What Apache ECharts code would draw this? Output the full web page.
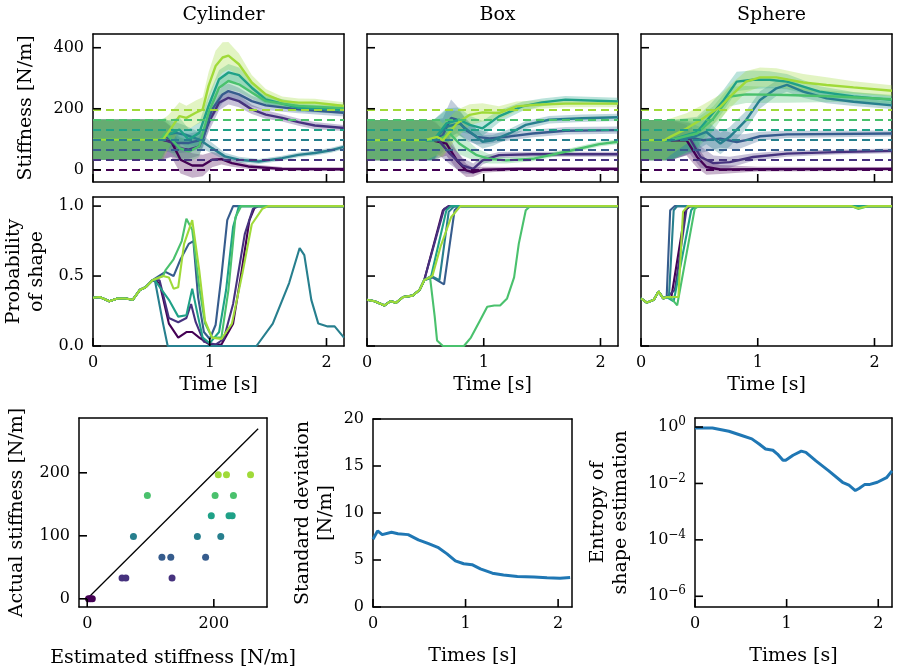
<!DOCTYPE html>
<html>
<head>
<meta charset="utf-8">
<script src="https://cdn.jsdelivr.net/npm/echarts@6/dist/echarts.min.js"></script>
<style>
  html, body { margin: 0; padding: 0; background: #fff; }
  #chart { width: 898px; height: 671px; }
</style>
</head>
<body>
<div id="chart"></div>
<script>
// ---- data ----
var shapes = ['Cylinder', 'Box', 'Sphere'];
var trueK = [0, 33, 66, 99, 132, 164, 197];
var colors = ['#440154', '#46327e', '#365c8d', '#277f8e', '#1fa187', '#4ac16d', '#a0da39'];
var timeTicks = [0, 1, 2];
var stiffTicks = [0, 200, 400];
var probTicks = [0, 0.5, 1];

// stiffness estimate per true stiffness: [time, mean, spread]
var stiffCylinder = [
  [[0,99,66],[0.58,99,66],[0.67,93,50],[0.75,33,45],[0.85,14,40],[0.94,14,35],[1.02,33,25],[1.1,35,18],[1.19,22,12],[1.33,11,8],[1.62,3,6],[2.15,2,6]],
  [[0,99,66],[0.6,99,66],[0.68,88,45],[0.74,71,35],[0.82,66,30],[0.91,77,30],[0.99,154,30],[1.08,220,25],[1.16,236,22],[1.25,225,20],[1.36,198,15],[1.48,181,14],[1.62,170,12],[1.76,156,12],[1.9,145,12],[2.15,137,10]],
  [[0,99,66],[0.6,99,66],[0.62,110,50],[0.71,88,35],[0.82,88,30],[0.94,99,30],[1.02,198,30],[1.11,247,28],[1.16,258,25],[1.25,247,22],[1.36,225,18],[1.48,211,15],[1.76,198,13],[2.15,187,12]],
  [[0,99,66],[0.58,99,66],[0.62,115,50],[0.71,121,35],[0.79,115,30],[0.91,99,25],[1.02,71,18],[1.13,44,12],[1.25,33,10],[1.42,27,8],[1.62,38,8],[1.76,49,8],[1.9,55,8],[2.04,64,8],[2.15,75,8]],
  [[0,99,66],[0.58,99,66],[0.62,110,50],[0.74,132,40],[0.82,99,35],[0.91,121,35],[0.99,209,35],[1.08,297,30],[1.16,319,28],[1.25,310,25],[1.36,269,20],[1.48,231,16],[1.76,203,13],[2.15,196,12]],
  [[0,99,66],[0.58,99,66],[0.62,121,50],[0.74,71,40],[0.82,60,35],[0.91,77,35],[0.99,187,35],[1.08,269,30],[1.16,291,28],[1.25,280,25],[1.36,253,20],[1.48,225,16],[1.76,209,13],[2.15,202,12]],
  [[0,99,66],[0.6,99,66],[0.65,126,55],[0.74,176,45],[0.8,170,40],[0.88,187,40],[0.94,198,40],[0.99,275,45],[1.05,340,50],[1.11,368,50],[1.16,374,45],[1.25,346,35],[1.36,286,25],[1.48,247,18],[1.62,225,15],[1.76,220,14],[1.9,220,13],[2.04,214,12],[2.15,209,12]]
];
var stiffBox = [
  [[0,97,66],[0.55,97,66],[0.68,86,40],[0.77,31,30],[0.85,-2,22],[0.91,-8,15],[0.99,0,10],[1.28,3,6],[2.15,3,6]],
  [[0,97,66],[0.57,97,66],[0.6,103,50],[0.71,53,35],[0.82,14,25],[0.91,3,18],[0.99,31,14],[1.13,48,10],[1.42,51,8],[2.15,51,8]],
  [[0,97,66],[0.57,97,66],[0.65,114,55],[0.72,170,60],[0.77,164,45],[0.85,130,35],[0.94,108,25],[1.05,103,18],[1.19,108,14],[1.42,119,12],[1.7,128,12],[2.15,130,12]],
  [[0,97,66],[0.57,97,66],[0.68,141,55],[0.79,152,40],[0.88,125,30],[0.99,92,22],[1.08,97,18],[1.22,119,15],[1.36,147,13],[1.56,164,12],[1.84,169,12],[2.15,172,12]],
  [[0,97,66],[0.57,97,66],[0.68,152,50],[0.79,164,40],[0.88,147,30],[0.99,136,25],[1.13,175,20],[1.33,208,15],[1.5,221,13],[1.7,230,12],[2.15,224,12]],
  [[0,97,66],[0.6,97,66],[0.71,119,45],[0.79,86,35],[0.94,48,22],[1.05,36,15],[1.19,31,10],[1.42,36,8],[1.7,59,8],[1.99,84,8],[2.15,92,8]],
  [[0,97,66],[0.5,97,66],[0.6,108,60],[0.65,97,55],[0.77,152,45],[0.88,180,35],[0.99,188,30],[1.13,186,22],[1.28,208,16],[1.45,213,14],[1.7,217,12],[2.15,217,12]]
];
var stiffSphere = [
  [[0,97,66],[0.25,97,66],[0.39,97,50],[0.48,42,35],[0.56,9,25],[0.68,1,15],[1.0,2,8],[2.15,3,6]],
  [[0,97,66],[0.25,97,66],[0.42,102,50],[0.51,42,35],[0.62,22,25],[0.76,25,18],[0.96,42,12],[1.25,53,10],[1.67,58,8],[2.15,62,8]],
  [[0,97,66],[0.25,97,66],[0.39,108,50],[0.53,97,40],[0.68,102,30],[0.82,91,25],[0.9,97,20],[1.02,110,15],[1.25,116,12],[2.15,119,10]],
  [[0,97,66],[0.25,97,66],[0.45,108,50],[0.56,124,40],[0.68,86,35],[0.76,108,32],[0.9,163,30],[1.02,229,28],[1.16,267,25],[1.25,278,22],[1.39,256,20],[1.59,234,16],[1.82,223,14],[2.15,211,12]],
  [[0,97,66],[0.25,97,66],[0.48,124,50],[0.59,174,40],[0.71,229,35],[0.82,289,32],[0.96,295,30],[1.1,295,28],[1.25,289,25],[1.53,256,18],[1.82,240,15],[2.15,229,14]],
  [[0,97,66],[0.25,97,66],[0.48,119,50],[0.62,168,40],[0.76,240,32],[0.9,247,28],[1.25,245,25],[1.67,240,18],[2.15,231,15]],
  [[0,97,66],[0.2,97,66],[0.25,108,60],[0.39,135,50],[0.53,168,45],[0.68,207,40],[0.79,250,38],[0.9,289,35],[1.02,303,32],[1.16,303,30],[1.39,286,28],[1.59,278,25],[1.82,270,20],[2.15,259,18]]
];

// probability of the right shape: shared start, then per true stiffness [time, p]
var probCylinderStart = [[0,0.345],[0.057,0.35],[0.14,0.32],[0.21,0.34],[0.28,0.34],[0.34,0.33],[0.4,0.4],[0.45,0.42],[0.51,0.47]];
var probCylinder = [
  [[0.57,0.45],[0.65,0.16],[0.73,0.06],[0.8,0.1],[0.85,0.1],[0.91,0.06],[1.0,0.01],[1.1,0.01],[1.2,0.16],[1.27,0.52],[1.34,0.9],[1.39,1.0],[2.15,1.0]],
  [[0.57,0.47],[0.65,0.2],[0.73,0.17],[0.8,0.2],[0.84,0.3],[0.88,0.17],[0.95,0.03],[1.05,0.01],[1.12,0.05],[1.2,0.3],[1.3,0.8],[1.37,0.98],[1.42,1.0],[2.15,1.0]],
  [[0.62,0.53],[0.69,0.5],[0.75,0.62],[0.82,0.73],[0.86,0.75],[0.9,0.35],[0.95,0.1],[1.0,0.05],[1.05,0.15],[1.1,0.5],[1.15,0.9],[1.2,1.0],[2.15,1.0]],
  [[0.53,0.47],[0.6,0.16],[0.64,0.0],[1.4,0.0],[1.54,0.16],[1.68,0.45],[1.77,0.7],[1.81,0.65],[1.87,0.33],[1.93,0.16],[2.01,0.14],[2.07,0.14],[2.15,0.06]],
  [[0.53,0.47],[0.65,0.33],[0.73,0.21],[0.8,0.22],[0.85,0.41],[0.9,0.21],[0.94,0.06],[1.0,0.02],[1.08,0.1],[1.14,0.4],[1.2,0.85],[1.25,1.0],[2.15,1.0]],
  [[0.6,0.5],[0.62,0.54],[0.69,0.62],[0.76,0.75],[0.8,0.91],[0.85,0.83],[0.91,0.42],[0.96,0.16],[1.02,0.06],[1.1,0.06],[1.16,0.4],[1.22,0.92],[1.27,1.0],[2.15,1.0]],
  [[0.6,0.5],[0.65,0.49],[0.69,0.41],[0.73,0.42],[0.78,0.73],[0.85,0.9],[0.91,0.54],[0.96,0.18],[1.02,0.06],[1.1,0.05],[1.19,0.16],[1.28,0.52],[1.36,0.87],[1.45,0.98],[1.5,1.0],[2.15,1.0]]
];
var probBoxStart = [[0,0.33],[0.065,0.32],[0.15,0.29],[0.2,0.32],[0.25,0.31],[0.31,0.35],[0.39,0.36],[0.45,0.4],[0.49,0.47]];
var probBox = [
  [[0.65,0.97],[0.7,1.0],[2.15,1.0]],
  [[0.66,0.98],[0.7,1.0],[2.15,1.0]],
  [[0.56,0.49],[0.66,0.44],[0.75,0.97],[0.79,1.0],[2.15,1.0]],
  [[0.55,0.5],[0.62,0.47],[0.7,0.96],[0.75,1.0],[2.15,1.0]],
  [[0.55,0.5],[0.68,0.97],[0.72,1.0],[2.15,1.0]],
  [[0.54,0.49],[0.58,0.21],[0.6,0.04],[0.65,0],[0.83,0],[0.89,0.06],[0.96,0.17],[1.03,0.28],[1.09,0.29],[1.14,0.29],[1.2,0.34],[1.26,0.49],[1.3,0.73],[1.36,0.97],[1.4,1.0],[2.15,1.0]],
  [[0.51,0.48],[0.56,0.5],[0.63,0.71],[0.72,0.92],[0.8,1.0],[2.15,1.0]]
];
var probSphereStart = [[0,0.34],[0.05,0.31],[0.11,0.33],[0.15,0.39],[0.19,0.34],[0.22,0.35]];
var probSphere = [
  [[0.26,0.35],[0.38,0.97],[0.42,1.0],[2.15,1.0]],
  [[0.29,0.4],[0.39,0.98],[0.42,1.0],[2.15,1.0]],
  [[0.25,0.97],[0.29,1.0],[2.15,1.0]],
  [[0.24,0.36],[0.28,0.97],[0.31,1.0],[2.15,1.0]],
  [[0.28,0.32],[0.43,0.97],[0.46,1.0],[2.15,1.0]],
  [[0.26,0.34],[0.31,0.29],[0.46,0.98],[0.49,1.0],[1.8,1.0],[1.86,0.98],[1.95,1.0],[2.15,1.0]],
  [[0.32,0.35],[0.36,0.96],[0.4,1.0],[1.8,1.0],[1.86,0.985],[1.95,1.0],[2.15,1.0]]
];

// final estimates (one per shape) for each true stiffness
var estimatedK = [[2, 5, 8], [55, 61, 134], [118, 132, 187], [73, 174, 211], [196, 224, 229], [95, 202, 231], [207, 220, 258]];
var identityEnds = [0, 270];

var stdTime = [0, 0.05, 0.1, 0.2, 0.27, 0.38, 0.49, 0.6, 0.7, 0.8, 0.89, 0.98, 1.07, 1.16, 1.29, 1.41, 1.56, 1.74, 1.88, 2.02, 2.13];
var stdValue = [7.2, 8.1, 7.7, 7.95, 7.8, 7.7, 7.15, 6.75, 6.35, 5.65, 4.9, 4.6, 4.5, 4.05, 3.6, 3.4, 3.25, 3.2, 3.1, 3.05, 3.15];
var entTime = [0, 0.19, 0.37, 0.51, 0.62, 0.7, 0.77, 0.85, 0.9, 0.96, 0.99, 1.07, 1.16, 1.21, 1.32, 1.46, 1.61, 1.68, 1.75, 1.79, 1.85, 1.9, 1.99, 2.09, 2.15];
var entValue = [0.93, 0.93, 0.71, 0.5, 0.38, 0.25, 0.166, 0.15, 0.11, 0.066, 0.066, 0.10, 0.14, 0.126, 0.063, 0.028, 0.011, 0.0087, 0.0056, 0.0066, 0.0091, 0.0091, 0.011, 0.016, 0.028];

// ---- layout ----
var FONT = "'DejaVu Serif', serif";
var colLeft = [93, 367, 641];
var colW = 251;
var rowTop = [34, 197];
var rowH = [148, 149];
var bottomGrids = [
  { left: 79, top: 418, width: 188, height: 189 },
  { left: 373, top: 419, width: 199, height: 188 },
  { left: 695, top: 418, width: 197, height: 189 }
];
var TICK = 8;

var chart = echarts.init(document.getElementById('chart'), null, { renderer: 'canvas' });

var grids = [], xAxes = [], yAxes = [], series = [];
var labelStyle = { color: '#000', fontFamily: FONT, fontSize: 16, margin: 9 };
var nameStyle = { color: '#000', fontFamily: FONT, fontSize: 19, lineHeight: 23 };
var frameLine = { show: true, onZero: false, lineStyle: { color: '#000', width: 1.5 } };
var tickSeriesList = [];

function addGrid(g) {
  grids.push(g);
  return grids.length - 1;
}
// top and right axes only draw the rest of the frame
function frameAxes(gi, xr, yr) {
  xAxes.push({ type: 'value', gridIndex: gi, min: xr[0], max: xr[1], position: 'top',
    axisLine: frameLine, axisTick: { show: false }, axisLabel: { show: false }, splitLine: { show: false } });
  yAxes.push({ type: 'value', gridIndex: gi, min: yr[0], max: yr[1], position: 'right',
    axisLine: frameLine, axisTick: { show: false }, axisLabel: { show: false }, splitLine: { show: false } });
}
function xAxis(gi, min, max, ticks, showLabels, name, gap, fmt) {
  xAxes.push({
    type: 'value', gridIndex: gi, min: min, max: max, position: 'bottom',
    axisLine: frameLine, splitLine: { show: false }, axisTick: { show: false },
    axisLabel: Object.assign({ show: showLabels, customValues: ticks, formatter: fmt || function (v) { return String(v); } }, labelStyle),
    name: name || '', nameLocation: 'middle', nameGap: gap || 0, nameTextStyle: nameStyle
  });
  return xAxes.length - 1;
}
function yAxis(gi, min, max, ticks, showLabels, name, gap, fmt, rich) {
  var lab = Object.assign({ show: showLabels, customValues: ticks, formatter: fmt || function (v) { return String(v); } }, labelStyle);
  if (rich) lab.rich = rich;
  yAxes.push({
    type: 'value', gridIndex: gi, min: min, max: max, position: 'left',
    axisLine: frameLine, splitLine: { show: false }, axisTick: { show: false },
    axisLabel: lab,
    name: name || '', nameLocation: 'middle', nameGap: gap || 0, nameRotate: 90, nameTextStyle: nameStyle
  });
  return yAxes.length - 1;
}
// inward tick marks on the bottom and left edges, placed through the axes' scales
function addTicks(xi, yi, xTicks, yTicks, xMin, yMin) {
  tickSeriesList.push({
    type: 'custom', xAxisIndex: xi, yAxisIndex: yi, z: 10, silent: true, clip: false,
    data: xTicks.map(function (v) { return [v, yMin]; }),
    renderItem: function (params, api) {
      var p = api.coord([api.value(0), api.value(1)]);
      return { type: 'line', z2: 10, shape: { x1: p[0], y1: p[1], x2: p[0], y2: p[1] - TICK },
        style: { stroke: '#000', lineWidth: 1.6 } };
    }
  });
  tickSeriesList.push({
    type: 'custom', xAxisIndex: xi, yAxisIndex: yi, z: 10, silent: true, clip: false,
    data: yTicks.map(function (v) { return [xMin, v]; }),
    renderItem: function (params, api) {
      var p = api.coord([api.value(0), api.value(1)]);
      return { type: 'line', z2: 10, shape: { x1: p[0], y1: p[1], x2: p[0] + TICK, y2: p[1] },
        style: { stroke: '#000', lineWidth: 1.6 } };
    }
  });
}

// top row: stiffness estimates
var stiffPanels = [stiffCylinder, stiffBox, stiffSphere];
var bandList = [], dashList = [], lineList = [];
stiffPanels.forEach(function (panel, c) {
  var gi = addGrid({ left: colLeft[c], top: rowTop[0], width: colW, height: rowH[0] });
  var xi = xAxis(gi, 0, 2.15, timeTicks, false);
  var yi = yAxis(gi, -40, 445, stiffTicks, c === 0, c === 0 ? 'Stiffness [N/m]' : '', 55);
  frameAxes(gi, [0, 2.15], [-40, 445]);
  addTicks(xi, yi, timeTicks, stiffTicks, 0, -40);
  panel.forEach(function (pts, k) {
    bandList.push({
      type: 'custom', xAxisIndex: xi, yAxisIndex: yi, z: 1, silent: true, clip: true,
      data: [[pts[0][0], pts[0][1]]],
      renderItem: function (params, api) {
        var up = pts.map(function (p) { return api.coord([p[0], p[1] + p[2]]); });
        var lo = pts.map(function (p) { return api.coord([p[0], p[1] - p[2]]); }).reverse();
        return { type: 'polygon', shape: { points: up.concat(lo) },
          style: { fill: echarts.color.modifyAlpha(colors[k], 0.3) } };
      }
    });
    dashList.push({
      type: 'line', xAxisIndex: xi, yAxisIndex: yi, z: 2, data: [], silent: true,
      markLine: { silent: true, symbol: 'none', label: { show: false },
        lineStyle: { color: colors[k], type: [8, 5], width: 2 },
        data: [{ yAxis: trueK[k] }] }
    });
    lineList.push({
      type: 'line', xAxisIndex: xi, yAxisIndex: yi, z: 3, symbol: 'none',
      data: pts.map(function (p) { return [p[0], p[1]]; }),
      lineStyle: { color: colors[k], width: 2.4 }, itemStyle: { color: colors[k] }
    });
  });
});
series = bandList.concat(dashList, lineList);

// middle row: probability of shape
var probPanels = [[probCylinderStart, probCylinder], [probBoxStart, probBox], [probSphereStart, probSphere]];
probPanels.forEach(function (pp, c) {
  var gi = addGrid({ left: colLeft[c], top: rowTop[1], width: colW, height: rowH[1] });
  var xi = xAxis(gi, 0, 2.15, timeTicks, true, 'Time [s]', 28);
  var yi = yAxis(gi, 0, 1.065, probTicks, c === 0, c === 0 ? 'Probability\nof shape' : '', 44,
    function (v) { return v.toFixed(1); });
  frameAxes(gi, [0, 2.15], [0, 1.065]);
  addTicks(xi, yi, timeTicks, probTicks, 0, 0);
  pp[1].forEach(function (tail, k) {
    series.push({
      type: 'line', xAxisIndex: xi, yAxisIndex: yi, z: 3, symbol: 'none',
      data: pp[0].concat(tail),
      lineStyle: { color: colors[k], width: 2.1 }, itemStyle: { color: colors[k] }
    });
  });
});

// bottom left: estimated vs actual
var gS = addGrid(bottomGrids[0]);
var xS = xAxis(gS, -13, 284, [0, 200], true, 'Estimated stiffness [N/m]', 40);
var yS = yAxis(gS, -13, 287, [0, 100, 200], true, 'Actual stiffness [N/m]', 50);
frameAxes(gS, [-13, 284], [-13, 287]);
addTicks(xS, yS, [0, 200], [0, 100, 200], -13, -13);
series.push({
  type: 'line', xAxisIndex: xS, yAxisIndex: yS, z: 2, symbol: 'none',
  data: identityEnds.map(function (v) { return [v, v]; }),
  lineStyle: { color: '#000', width: 1.3 }
});
estimatedK.forEach(function (ests, k) {
  series.push({
    type: 'scatter', xAxisIndex: xS, yAxisIndex: yS, z: 3, symbolSize: 7,
    data: ests.map(function (e) { return [e, trueK[k]]; }),
    itemStyle: { color: colors[k], opacity: 1 }
  });
});

// bottom middle: standard deviation
var stdTicks = [0, 5, 10, 15, 20];
var gD = addGrid(bottomGrids[1]);
var xD = xAxis(gD, 0, 2.15, timeTicks, true, 'Times [s]', 38);
var yD = yAxis(gD, 0, 20, stdTicks, true, 'Standard deviation\n[N/m]', 35);
frameAxes(gD, [0, 2.15], [0, 20]);
addTicks(xD, yD, timeTicks, stdTicks, 0, 0);
series.push({
  type: 'line', xAxisIndex: xD, yAxisIndex: yD, z: 3, symbol: 'none',
  data: stdTime.map(function (t, i) { return [t, stdValue[i]]; }),
  lineStyle: { color: '#1f77b4', width: 3 }
});

// bottom right: entropy (log10 scale)
var entTicks = [-6, -4, -2, 0];
var gE = addGrid(bottomGrids[2]);
var xE = xAxis(gE, 0, 2.15, timeTicks, true, 'Times [s]', 38);
var yE = yAxis(gE, -6.38, 0.32, entTicks, true, 'Entropy of\nshape estimation', 62,
  function (v) { return '{b|10}{s|' + (v === 0 ? '0' : '\u2212' + Math.abs(v)) + '}'; },
  { b: { fontFamily: FONT, fontSize: 16, color: '#000' },
    s: { fontFamily: FONT, fontSize: 12, color: '#000', padding: [0, 0, 10, 0] } });
frameAxes(gE, [0, 2.15], [-6.38, 0.32]);
addTicks(xE, yE, timeTicks, entTicks, 0, -6.38);
series.push({
  type: 'line', xAxisIndex: xE, yAxisIndex: yE, z: 3, symbol: 'none',
  data: entTime.map(function (t, i) { return [t, Math.log10(entValue[i])]; }),
  lineStyle: { color: '#1f77b4', width: 3 }
});

series = series.concat(tickSeriesList);

chart.setOption({
  animation: false,
  backgroundColor: '#fff',
  title: shapes.map(function (s, c) {
    return { text: s, left: colLeft[c] + colW / 2, top: 1, textAlign: 'center',
      textStyle: { fontFamily: FONT, fontSize: 19, fontWeight: 'normal', color: '#000' } };
  }),
  grid: grids,
  xAxis: xAxes,
  yAxis: yAxes,
  series: series
});
</script>
</body>
</html>
